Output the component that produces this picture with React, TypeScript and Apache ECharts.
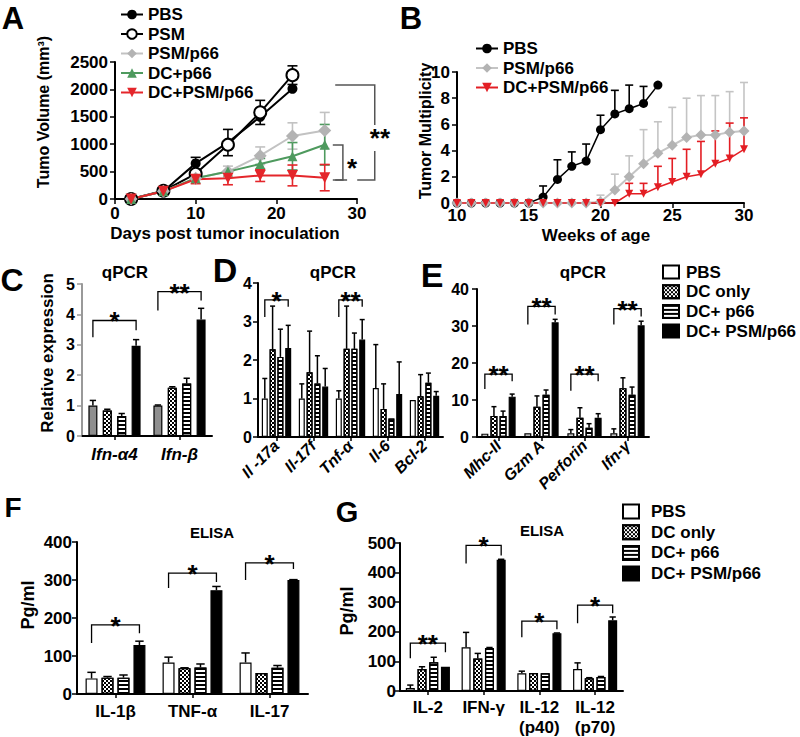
import React, { useEffect, useRef } from "react";
import * as echarts from "echarts";

const FONT = '"Liberation Sans", Arial, Helvetica, sans-serif';

// ---------------- Panel A : tumour volume ----------------
const aDays = [2, 6, 10, 14, 18, 22, 26];
const aPBS = [0, 140, 650, 1030, 1500, 2010];
const aPBSErr = [0, 0, 110, 240, 0, 0];
const aPSM = [0, 150, 460, 990, 1580, 2260];
const aPSMErr = [0, 0, 0, 0, 220, 170];
const aPSMp66 = [0, 140, 380, 500, 790, 1150, 1250];
const aPSMp66Err = [0, 0, 0, 100, 160, 240, 330];
const aDCp66 = [0, 140, 380, 500, 640, 780, 990];
const aDCp66Err = [0, 0, 0, 0, 100, 250, 370];
const aDCPSMp66 = [0, 140, 360, 380, 430, 430, 390];
const aDCPSMp66Err = [0, 0, 80, 120, 110, 190, 240];
const aXTicks = [0, 10, 20, 30];
const aYTicks = [0, 500, 1000, 1500, 2000, 2500];
// [x1, x2, yTop, yBottom]
const aBrackets = [
  [27.3, 32.2, 2080, 347],
  [27.0, 28.25, 985, 347],
];
const aBracketMarkPos = [
  [32.85, 1204],
  [29.4, 657],
];
const aBracketMarks = ["**", "*"];

// ---------------- Panel B : tumour multiplicity ----------------
const bWeeks = [10, 11, 12, 13, 14, 15, 16, 17, 18, 19, 20, 21, 22, 23, 24, 25, 26, 27, 28, 29, 30];
const bPBS = [0, 0, 0, 0, 0, 0, 0.45, 1.8, 2.8, 3.2, 5.6, 6.8, 7.2, 7.6, 9.0];
const bPBSHi = [null, null, null, null, null, null, 1.3, 3.3, 3.9, 4.5, 6.7, 8.6, 9.0, 8.9, null];
const bPSMp66 = [0, 0, 0, 0, 0, 0, 0, 0, 0, 0, 0.1, 1.0, 2.0, 3.0, 3.8, 4.4, 5.0, 5.2, 5.2, 5.4, 5.5];
const bPSMp66Hi = [null, null, null, null, null, null, null, null, null, null, 0.6, 2.2, 3.6, 5.6, 6.2, 7.3, 8.0, 8.2, 8.2, 8.5, 9.2];
const bDCPSMp66 = [0, 0, 0, 0, 0, 0, 0, 0, 0, 0, 0, 0, 0.7, 0.7, 1.2, 1.6, 2.0, 2.2, 3.0, 3.4, 4.1];
const bDCPSMp66Hi = [null, null, null, null, null, null, null, null, null, null, null, null, 1.5, 1.5, 2.8, 3.4, 4.1, 4.7, 5.5, 6.1, 6.5];
const bXTicks = [10, 15, 20, 25, 30];
const bYTicks = [0, 2, 4, 6, 8, 10];

// ---------------- bar groups ----------------
const groupNames = ["PBS", "DC only", "DC+ p66", "DC+ PSM/p66"];

// Panel C : qPCR
const cCats = ["Ifn-α4", "Ifn-β"];
const cPBS = [1.0, 1.0];
const cPBSErr = [1.17, 1.02];
const cDC = [0.84, 1.59];
const cDCErr = [0.88, 1.62];
const cDCp66 = [0.66, 1.73];
const cDCp66Err = [0.74, 1.9];
const cDCPSM = [2.97, 3.83];
const cDCPSMErr = [3.17, 4.2];
const cYTicks = [0, 1, 2, 3, 4, 5];
const cBrackets = [
  [0, 3.8, 3.25, 3.48],
  [1, 4.75, 4.13, 4.46],
];
const cBracketMarks = ["*", "**"];

// Panel D : qPCR
const dCats = ["Il -17a", "Il-17f", "Tnf-α", "Il-6", "Bcl-2"];
const dPBS = [1.0, 1.0, 1.0, 1.27, 0.96];
const dPBSErr = [1.52, 1.38, 1.2, 2.4, 0.96];
const dDC = [2.28, 1.68, 2.29, 0.73, 1.06];
const dDCErr = [3.4, 2.75, 3.4, 1.38, 1.62];
const dDCp66 = [2.08, 1.39, 2.29, 0.48, 1.41];
const dDCp66Err = [2.8, 2.11, 2.7, 0.48, 1.66];
const dDCPSM = [2.31, 1.31, 2.53, 1.12, 1.07];
const dDCPSMErr = [2.9, 1.78, 3.05, 1.95, 1.18];
const dYTicks = [0, 1, 2, 3, 4];
const dBrackets = [
  [0, 3.56, 3.12, 3.38],
  [2, 3.56, 3.12, 3.38],
];
const dBracketMarks = ["*", "**"];

// Panel E : qPCR
const eCats = ["Mhc-II", "Gzm A", "Perforin", "Ifn-γ"];
const ePBS = [0.9, 1.0, 1.0, 1.0];
const ePBSErr = [0.9, 1.0, 2.0, 2.2];
const eDC = [5.7, 8.2, 5.2, 13.2];
const eDCErr = [8.2, 11.1, 7.9, 16.0];
const eDCp66 = [5.7, 11.4, 2.5, 11.4];
const eDCp66Err = [7.0, 12.7, 3.6, 13.5];
const eDCPSM = [10.9, 31.0, 5.2, 30.2];
const eDCPSMErr = [11.6, 31.8, 6.3, 31.3];
const eYTicks = [0, 10, 20, 30, 40];
const eBrackets = [
  [0, 17, 13, 15.1],
  [1, 35.3, 30.4, 33.1],
  [2, 17, 12.5, 15.1],
  [3, 34.7, 30.4, 32.6],
];
const eBracketMarks = ["**", "**", "**", "**"];

// Panel F : ELISA
const fCats = ["IL-1β", "TNF-α", "IL-17"];
const fPBS = [41, 83, 83];
const fPBSErr = [57, 97, 108];
const fDC = [43, 68, 55];
const fDCErr = [46, 69, 55];
const fDCp66 = [43, 70, 69];
const fDCp66Err = [50, 79, 75];
const fDCPSM = [129, 273, 300];
const fDCPSMErr = [139, 283, 301];
const fYTicks = [0, 100, 200, 300, 400];
const fBrackets = [
  [0, 182, 134, 160],
  [1, 318, 279, 295],
  [2, 345, 300, 329],
];
const fBracketMarks = ["*", "*", "*"];

// Panel G : ELISA
const gCats = ["IL-2", "IFN-γ", "IL-12\n(p40)", "IL-12\n(p70)"];
const gPBS = [10, 148, 60, 74];
const gPBSErr = [20, 198, 67, 95];
const gDC = [74, 110, 61, 43];
const gDCErr = [82, 127, 61, 45];
const gDCp66 = [97, 145, 60, 47];
const gDCp66Err = [114, 147, 60, 49];
const gDCPSM = [82, 443, 195, 239];
const gDCPSMErr = [82, 445, 196, 250];
const gYTicks = [0, 100, 200, 300, 400, 500];
const gBrackets = [
  [0, 162, 111, 131],
  [1, 492, 431, 458],
  [2, 236, 182, 209],
  [3, 290, 229, 263],
];
const gBracketMarks = ["**", "*", "*", "*"];

// ---------------- helpers ----------------
const stripPrefix = (n: string) => n.slice(n.indexOf(":") + 1);

const checkerDecal = {
  symbol: "rect",
  symbolSize: 1,
  dashArrayX: [
    [2, 2],
    [0, 2, 2, 0],
  ],
  dashArrayY: [2, 0],
  color: "#000",
};
const stripeDecal = {
  symbol: "rect",
  symbolSize: 1,
  dashArrayX: [1, 0],
  dashArrayY: [1.4, 1.8],
  color: "#000",
};
const barFills: any[] = [
  { color: "#fff" },
  { color: "#fff", decal: checkerDecal },
  { color: "#fff", decal: stripeDecal },
  { color: "#000" },
];

function valAxis(gridIndex: number, ticks: number[], o: any = {}) {
  const c = o.lineColor || "#000";
  return {
    type: "value",
    gridIndex,
    min: ticks[0],
    max: ticks[ticks.length - 1],
    interval: ticks[1] - ticks[0],
    axisLine: { show: true, onZero: false, lineStyle: { color: c, width: 2 } },
    axisTick: { show: true, length: 5, lineStyle: { color: c, width: 1.5 } },
    axisLabel: {
      fontSize: o.size || 17,
      fontWeight: "bold",
      fontFamily: FONT,
      color: "#000",
      margin: o.margin ?? 7,
      formatter: (v: number) => String(v),
    },
    splitLine: { show: false },
  };
}

function catAxis(gridIndex: number, cats: string[], o: any = {}) {
  return {
    type: "category",
    gridIndex,
    data: cats,
    axisLine: { show: true, onZero: false, lineStyle: { color: "#000", width: 2 } },
    axisTick: { show: true, alignWithLabel: true, length: 4, lineStyle: { color: "#000", width: 1.5 } },
    axisLabel: {
      interval: 0,
      fontSize: o.size || 17,
      fontWeight: "bold",
      fontStyle: o.italic ? "italic" : "normal",
      fontFamily: FONT,
      color: "#000",
      margin: o.margin ?? 8,
      rotate: o.rotate || 0,
      lineHeight: o.lineHeight || 18,
    },
    splitLine: { show: false },
  };
}

function barCenter(catX: number, i: number, bw: number, gap: number) {
  const step = bw * (1 + gap);
  const total = 4 * bw + 3 * bw * gap;
  return catX - total / 2 + bw / 2 + i * step;
}

function starText(text: string, x: number, y: number, size: number, extra: any = {}) {
  return {
    type: "text",
    x,
    y,
    style: {
      text,
      fontSize: size,
      fontWeight: "bold",
      fontFamily: FONT,
      fill: "#000",
      align: "center",
      verticalAlign: "middle",
      textAlign: "center",
      textVerticalAlign: "middle",
      ...extra,
    },
  };
}

function barPanel(
  key: string,
  idx: number,
  vals: number[][],
  errs: number[][],
  bw: number,
  gap: number,
  brackets: number[][],
  marks: string[],
  firstFill?: any
) {
  const series: any[] = vals.map((v, i) => ({
    type: "bar",
    name: `${key}:${groupNames[i]}`,
    xAxisIndex: idx,
    yAxisIndex: idx,
    data: v,
    barWidth: bw,
    barGap: `${Math.round(gap * 100)}%`,
    silent: true,
    z: 2,
    itemStyle: {
      ...(i === 0 && firstFill ? firstFill : barFills[i]),
      borderColor: "#000",
      borderWidth: 1.2,
    },
  }));
  const errData: number[][] = [];
  vals.forEach((v, i) =>
    v.forEach((val, c) => {
      if (errs[i][c] > val) errData.push([c, i, val, errs[i][c]]);
    })
  );
  const cap = Math.max(2.5, bw * 0.35);
  series.push({
    type: "custom",
    xAxisIndex: idx,
    yAxisIndex: idx,
    silent: true,
    z: 3,
    encode: { x: 0, y: 2 },
    data: errData,
    renderItem: (p: any, api: any) => {
      const c = api.value(0);
      const i = api.value(1);
      const base = api.coord([c, api.value(2)]);
      const top = api.coord([c, api.value(3)]);
      const x = barCenter(base[0], i, bw, gap);
      const st = { stroke: "#000", lineWidth: 1.5 };
      return {
        type: "group",
        children: [
          { type: "line", shape: { x1: x, y1: base[1], x2: x, y2: top[1] }, style: st },
          { type: "line", shape: { x1: x - cap, y1: top[1], x2: x + cap, y2: top[1] }, style: st },
        ],
      };
    },
  });
  series.push({
    type: "custom",
    xAxisIndex: idx,
    yAxisIndex: idx,
    silent: true,
    z: 4,
    encode: { x: 0, y: 1 },
    data: brackets,
    renderItem: (p: any, api: any) => {
      const c = api.value(0);
      const t = api.coord([c, api.value(1)]);
      const l = api.coord([c, api.value(2)]);
      const r = api.coord([c, api.value(3)]);
      const xL = barCenter(t[0], 0, bw, gap);
      const xR = barCenter(t[0], 3, bw, gap);
      return {
        type: "group",
        children: [
          {
            type: "polyline",
            shape: { points: [[xL, l[1]], [xL, t[1]], [xR, t[1]], [xR, r[1]]] },
            style: { stroke: "#000", lineWidth: 1.3, fill: "none" },
          },
          starText(marks[p.dataIndex], (xL + xR) / 2, t[1] + 1, 26),
        ],
      };
    },
  });
  return series;
}

function lineErr(idx: number, xs: number[], lo: number[], hi: number[], color: string, cap: number, bottomCap: boolean) {
  const data: number[][] = [];
  lo.forEach((l, i) => {
    if (hi[i] != null && hi[i] > l) data.push([xs[i], l, hi[i]]);
  });
  return {
    type: "custom",
    xAxisIndex: idx,
    yAxisIndex: idx,
    silent: true,
    z: 3,
    encode: { x: 0, y: 2 },
    data,
    renderItem: (p: any, api: any) => {
      const a = api.coord([api.value(0), api.value(1)]);
      const b = api.coord([api.value(0), api.value(2)]);
      const st = { stroke: color, lineWidth: 1.6 };
      const ch: any[] = [
        { type: "line", shape: { x1: a[0], y1: a[1], x2: b[0], y2: b[1] }, style: st },
        { type: "line", shape: { x1: b[0] - cap, y1: b[1], x2: b[0] + cap, y2: b[1] }, style: st },
      ];
      if (bottomCap) ch.push({ type: "line", shape: { x1: a[0] - cap, y1: a[1], x2: a[0] + cap, y2: a[1] }, style: st });
      return { type: "group", children: ch };
    },
  };
}

const pairs = (xs: number[], ys: number[]) => ys.map((y, i) => [xs[i], y]);
const invTri = "path://M0,0L10,0L5,9Z";

function buildOption() {
  const aDefs = [
    { n: "A:PBS", v: aPBS, e: aPBSErr, c: "#000", l: "#000", s: "circle", z: 10, st: {} },
    { n: "A:PSM", v: aPSM, e: aPSMErr, c: "#fff", l: "#000", s: "circle", z: 12, st: { borderColor: "#000", borderWidth: 2 } },
    { n: "A:PSM/p66", v: aPSMp66, e: aPSMp66Err, c: "#b3b3b3", l: "#c2c2c2", s: "diamond", z: 13, st: {} },
    { n: "A:DC+p66", v: aDCp66, e: aDCp66Err, c: "#4e9a5e", l: "#4e9a5e", s: "triangle", z: 10, st: {} },
    { n: "A:DC+PSM/p66", v: aDCPSMp66, e: aDCPSMp66Err, c: "#e4262b", l: "#e4262b", s: invTri, z: 11, st: {} },
  ];
  const series: any[] = [];
  aDefs.forEach((d) => {
    series.push(lineErr(0, aDays, d.v.map((v, i) => v - d.e[i]), d.v.map((v, i) => v + d.e[i]), d.l, 5, true));
  });
  aDefs.forEach((d) => {
    series.push({
      type: "line",
      name: d.n,
      xAxisIndex: 0,
      yAxisIndex: 0,
      data: pairs(aDays, d.v),
      symbol: d.s,
      symbolSize: d.z,
      clip: false,
      silent: true,
      z: 5,
      itemStyle: { color: d.c, ...d.st },
      lineStyle: { color: d.l, width: 2 },
    });
  });
  series.push({
    type: "custom",
    xAxisIndex: 0,
    yAxisIndex: 0,
    silent: true,
    z: 6,
    encode: { x: 0, y: 2 },
    data: aBrackets,
    renderItem: (p: any, api: any) => {
      const t1 = api.coord([api.value(0), api.value(2)]);
      const t2 = api.coord([api.value(1), api.value(2)]);
      const b2 = api.coord([api.value(1), api.value(3)]);
      const b1 = api.coord([api.value(0), api.value(3)]);
      return {
        type: "polyline",
        shape: { points: [t1, t2, b2, b1] },
        style: { stroke: "#555", lineWidth: 1.5, fill: "none" },
      };
    },
  });
  series.push({
    type: "custom",
    xAxisIndex: 0,
    yAxisIndex: 0,
    silent: true,
    z: 7,
    encode: { x: 0, y: 1 },
    data: aBracketMarkPos,
    renderItem: (p: any, api: any) => {
      const pt = api.coord([api.value(0), api.value(1)]);
      return starText(aBracketMarks[p.dataIndex], pt[0], pt[1] + 5, 26, { backgroundColor: "#fff" });
    },
  });

  // Panel B
  const bDefs = [
    { n: "B:PBS", v: bPBS, h: bPBSHi, c: "#000", l: "#000", s: "circle", z: 9, w: 1.5 },
    { n: "B:PSM/p66", v: bPSMp66, h: bPSMp66Hi, c: "#b3b3b3", l: "#c4c4c4", s: "diamond", z: 11, w: 2 },
    { n: "B:DC+PSM/p66", v: bDCPSMp66, h: bDCPSMp66Hi, c: "#e31e24", l: "#e31e24", s: invTri, z: 8, w: 1.5 },
  ];
  bDefs.forEach((d) => {
    series.push(lineErr(1, bWeeks, d.v, d.h as any, d.l, 4, false));
  });
  bDefs.forEach((d) => {
    series.push({
      type: "line",
      name: d.n,
      xAxisIndex: 1,
      yAxisIndex: 1,
      data: pairs(bWeeks, d.v),
      symbol: d.s,
      symbolSize: d.z,
      clip: false,
      silent: true,
      z: 5,
      itemStyle: { color: d.c },
      lineStyle: { color: d.l, width: d.w },
    });
  });

  series.push(
    ...barPanel("C", 2, [cPBS, cDC, cDCp66, cDCPSM], [cPBSErr, cDCErr, cDCp66Err, cDCPSMErr], 9, 0.6, cBrackets, cBracketMarks, {
      color: "#8f8f8f",
    })
  );
  series.push(
    ...barPanel("D", 3, [dPBS, dDC, dDCp66, dDCPSM], [dPBSErr, dDCErr, dDCp66Err, dDCPSMErr], 6, 0.3, dBrackets, dBracketMarks)
  );
  series.push(
    ...barPanel("E", 4, [ePBS, eDC, eDCp66, eDCPSM], [ePBSErr, eDCErr, eDCp66Err, eDCPSMErr], 7, 0.3, eBrackets, eBracketMarks)
  );
  series.push(
    ...barPanel("F", 5, [fPBS, fDC, fDCp66, fDCPSM], [fPBSErr, fDCErr, fDCp66Err, fDCPSMErr], 12, 0.33, fBrackets, fBracketMarks)
  );
  series.push(
    ...barPanel("G", 6, [gPBS, gDC, gDCp66, gDCPSM], [gPBSErr, gDCErr, gDCp66Err, gDCPSMErr], 9, 0.3, gBrackets, gBracketMarks)
  );

  const grids = [
    { left: 115, top: 62, width: 242, height: 137 },
    { left: 457, top: 72, width: 287, height: 131 },
    { left: 82, top: 284, width: 130, height: 152 },
    { left: 258, top: 283, width: 185, height: 154 },
    { left: 477, top: 289, width: 172, height: 148 },
    { left: 77, top: 542, width: 231, height: 152 },
    { left: 400, top: 543, width: 223, height: 148 },
  ].map((g) => ({ ...g, containLabel: false, outerBoundsMode: "none" }));

  const xAxis = [
    valAxis(0, aXTicks, { margin: 6 }),
    valAxis(1, bXTicks, { margin: 4 }),
    catAxis(2, cCats, { italic: true, margin: 9 }),
    catAxis(3, dCats, { italic: true, rotate: 45, margin: 6, size: 16 }),
    catAxis(4, eCats, { italic: true, rotate: 45, margin: 6, size: 16 }),
    catAxis(5, fCats, { margin: 8 }),
    catAxis(6, gCats, { margin: 6, lineHeight: 20 }),
  ];
  const yAxis = [
    valAxis(0, aYTicks, { margin: 7 }),
    valAxis(1, bYTicks, { margin: 7 }),
    valAxis(2, cYTicks, { margin: 7, lineColor: "#999", size: 16 }),
    valAxis(3, dYTicks, { margin: 6, size: 16 }),
    valAxis(4, eYTicks, { margin: 8, size: 16 }),
    valAxis(5, fYTicks, { margin: 5 }),
    valAxis(6, gYTicks, { margin: 4 }),
  ];

  const legendText = { fontSize: 17, fontWeight: "bold", fontFamily: FONT, color: "#000" };
  const legend = [
    {
      data: ["A:PBS", "A:PSM", "A:PSM/p66", "A:DC+p66", "A:DC+PSM/p66"],
      formatter: stripPrefix,
      orient: "vertical",
      left: 120,
      top: 6,
      padding: 0,
      itemWidth: 22,
      itemHeight: 12,
      itemGap: 2.5,
      selectedMode: false,
      textStyle: { ...legendText, lineHeight: 14 },
    },
    {
      data: ["B:PBS", "B:PSM/p66", "B:DC+PSM/p66"],
      formatter: stripPrefix,
      orient: "vertical",
      left: 475,
      top: 40,
      padding: 0,
      itemWidth: 22,
      itemHeight: 12,
      itemGap: 2.5,
      selectedMode: false,
      textStyle: { ...legendText, lineHeight: 14 },
    },
    {
      data: groupNames.map((n) => "E:" + n),
      formatter: stripPrefix,
      orient: "vertical",
      icon: "rect",
      left: 662,
      top: 263.5,
      padding: 0,
      itemWidth: 16,
      itemHeight: 13,
      itemGap: 2.7,
      selectedMode: false,
      textStyle: { ...legendText, lineHeight: 13, padding: [0, 0, 0, 2] },
    },
    {
      data: groupNames.map((n) => "G:" + n),
      formatter: stripPrefix,
      orient: "vertical",
      icon: "rect",
      left: 622,
      top: 503,
      padding: 0,
      itemWidth: 16,
      itemHeight: 14,
      itemGap: 3.7,
      selectedMode: false,
      textStyle: { ...legendText, lineHeight: 14, padding: [0, 0, 0, 7] },
    },
  ];

  const t = (text: string, x: number, y: number, size: number, rot = 0) => ({
    type: "text",
    x,
    y,
    rotation: rot,
    silent: true,
    style: {
      text,
      fontSize: size,
      fontWeight: "bold",
      fontFamily: FONT,
      fill: "#000",
      textAlign: "center",
      textVerticalAlign: "middle",
      align: "center",
      verticalAlign: "middle",
    },
  });
  const R = Math.PI / 2;
  const graphic = [
    t("A", 13, 18, 31),
    t("B", 411, 18, 31),
    t("C", 12, 280, 32),
    t("D", 225, 270, 34),
    t("E", 432, 275, 34),
    t("F", 13, 507, 28),
    t("G", 347, 512, 29),
    t("qPCR", 125, 272, 17),
    t("qPCR", 333, 272, 17),
    t("qPCR", 583, 272, 17),
    t("ELISA", 212, 532, 15),
    t("ELISA", 542, 530, 15),
    t("Tumo Volume (mm³)", 43, 112, 16, R),
    t("Tumor Multiplicity", 425, 131, 16, R),
    t("Relative expression", 47, 353, 17, R),
    t("Pg/ml", 28, 605, 18, R),
    t("Pg/ml", 347, 611, 18, R),
    t("Days post tumor inoculation", 225, 233, 17),
    t("Weeks of age", 596, 235, 17),
  ];

  return {
    animation: false,
    backgroundColor: "#fff",
    textStyle: { fontFamily: FONT },
    grid: grids,
    xAxis,
    yAxis,
    legend,
    series,
    graphic,
  };
}

export default function App() {
  const ref = useRef<HTMLDivElement>(null);
  useEffect(() => {
    document.body.style.margin = "0";
    const chart = echarts.init(ref.current as HTMLDivElement, null, { renderer: "svg" });
    chart.setOption(buildOption() as any);
    return () => chart.dispose();
  }, []);
  return <div ref={ref} style={{ width: 800, height: 737 }} />;
}
